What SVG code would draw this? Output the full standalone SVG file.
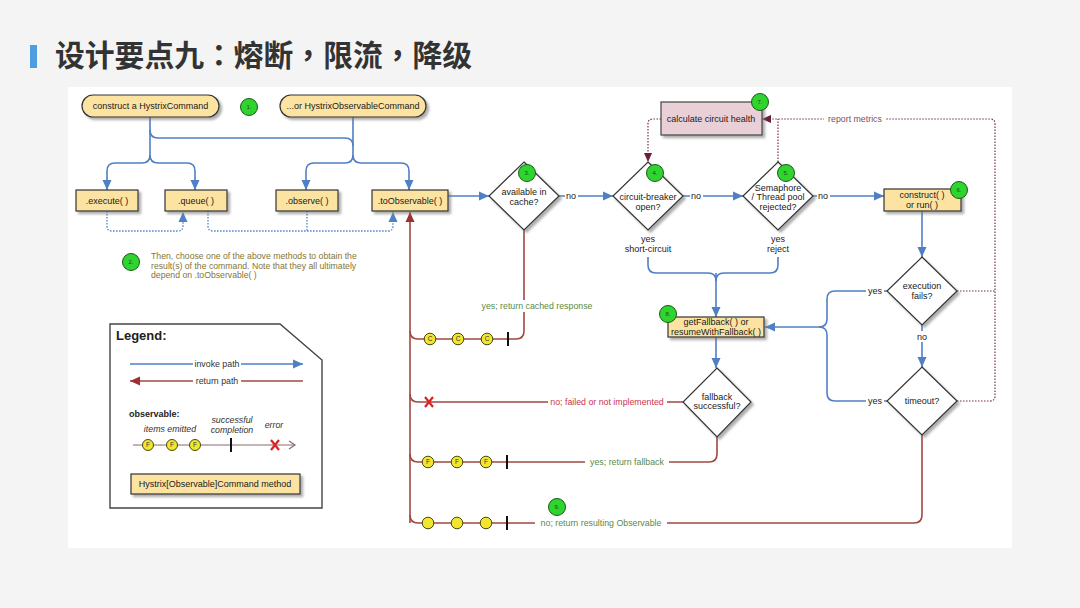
<svg xmlns="http://www.w3.org/2000/svg" width="1080" height="608" viewBox="0 0 1080 608">
<style>
.t{font-family:"Liberation Sans",Arial,sans-serif;font-size:9px;fill:#1a1a1a;text-anchor:middle}
.s{font-family:"Liberation Sans",Arial,sans-serif;font-size:8.8px;text-anchor:middle}
.g{fill:#5a8a46}
.r{fill:#cc3550}
.m{fill:#8a4a5a}
.o{fill:#857536;font-family:"Liberation Sans",Arial,sans-serif;font-size:8.7px}
.box{fill:#fce3a2;stroke:#333;stroke-width:1.2}
.dia{fill:#fff;stroke:#333;stroke-width:1.2}
.blue{fill:none;stroke:#4f7fc4;stroke-width:1.6}
.bdot{fill:none;stroke:#4f7fc4;stroke-width:1.3;stroke-dasharray:1.5 1.5}
.red{fill:none;stroke:#a04840;stroke-width:1.6}
.rdot{fill:none;stroke:#7a3040;stroke-width:1.2;stroke-dasharray:1.5 1.5}
.gc{fill:#2fd42f;stroke:#1a5a1a;stroke-width:1}
.gt{font-family:"Liberation Sans",Arial,sans-serif;font-size:6px;fill:#1a4a1a;text-anchor:middle}
.yc{fill:#f2e52e;stroke:#4a4a10;stroke-width:1}
.yt{font-family:"Liberation Sans",Arial,sans-serif;font-size:6.5px;fill:#333;text-anchor:middle}
.tick{stroke:#111;stroke-width:2}
.x{stroke:#dd2222;stroke-width:2.2;fill:none}
.wb{fill:#fff}
</style>
<defs>
<filter id="sh" x="-20%" y="-20%" width="150%" height="150%">
<feDropShadow dx="2.5" dy="2.5" stdDeviation="0.8" flood-color="#777" flood-opacity="0.6"/>
</filter>
<marker id="ab" markerUnits="userSpaceOnUse" markerWidth="10" markerHeight="10" viewBox="0 0 10 10" refX="10" refY="5" orient="auto"><path d="M0,0.5 L10,5 L0,9.5 Z" fill="#4f7fc4"/></marker>
<marker id="ar" markerUnits="userSpaceOnUse" markerWidth="10" markerHeight="10" viewBox="0 0 10 10" refX="10" refY="5" orient="auto"><path d="M0,0.5 L10,5 L0,9.5 Z" fill="#a03030"/></marker>
<marker id="am" markerUnits="userSpaceOnUse" markerWidth="9" markerHeight="9" viewBox="0 0 10 10" refX="10" refY="5" orient="auto"><path d="M0,0.5 L10,5 L0,9.5 Z" fill="#6a2035"/></marker>
</defs>
<rect x="0" y="0" width="1080" height="608" fill="#f4f4f4"/>
<rect x="68" y="87" width="944" height="461" fill="#fff"/>
<g id="title">
<rect x="30" y="45" width="7" height="23" fill="#4f9de0"/>
<text x="55" y="66" font-family="'Noto Sans CJK TC','Noto Sans CJK SC',sans-serif" font-size="29.8" font-weight="bold" fill="#333">设计要点九：熔断，限流，降级</text>
</g>
<g id="connectors">
<path class="blue" d="M150,117 V155 Q150,163 142,163 H115 Q107,163 107,171 V190" marker-end="url(#ab)"/>
<path class="blue" d="M150,155 Q150,163 158,163 H187 Q195,163 195,171 V190" marker-end="url(#ab)"/>
<path class="blue" d="M150,130 Q150,138 158,138 H345 Q353,138 353,146"/>
<path class="blue" d="M353,117 V155 Q353,163 345,163 H314 Q306,163 306,171 V190" marker-end="url(#ab)"/>
<path class="blue" d="M353,155 Q353,163 361,163 H401 Q409,163 409,171 V190" marker-end="url(#ab)"/>
<path class="bdot" d="M107,211 V226 Q107,231 112,231 H178 Q183,231 183,226 V212" marker-end="url(#ab)"/>
<path class="bdot" d="M208,211 V226 Q208,231 213,231 H388 Q393,231 393,226 V212" marker-end="url(#ab)"/>
<path class="bdot" d="M307,211 V231"/>
<path class="blue" d="M448,196 H489" marker-end="url(#ab)"/>
<path class="blue" d="M559,196 H613" marker-end="url(#ab)"/>
<path class="blue" d="M683,196 H743" marker-end="url(#ab)"/>
<path class="blue" d="M813,196 H884" marker-end="url(#ab)"/>
<path class="blue" d="M922,211 V257" marker-end="url(#ab)"/>
<path class="blue" d="M922,325 V367" marker-end="url(#ab)"/>
<path class="blue" d="M648,257 V265 Q648,273 656,273 H708 Q716,273 716,281"/>
<path class="blue" d="M778,257 V265 Q778,273 770,273 H724 Q716,273 716,281"/>
<path class="blue" d="M716,273 V317" marker-end="url(#ab)"/>
<path class="blue" d="M716,337 V368" marker-end="url(#ab)"/>
<path class="blue" d="M888,291 H835 Q827,291 827,299 V319 Q827,327 819,327"/>
<path class="blue" d="M888,401 H835 Q827,401 827,393 V335 Q827,327 819,327"/>
<path class="blue" d="M819,327 H765" marker-end="url(#ab)"/>
<path class="red" d="M410,523 V212" marker-end="url(#ar)"/>
<path class="red" d="M524,230 V331 Q524,339 516,339 H418 Q410,339 410,331"/>
<path class="red" d="M683,402 H418 Q410,402 410,394"/>
<path class="red" d="M717,437 V454 Q717,462 709,462 H418 Q410,462 410,454"/>
<path class="red" d="M922,435 V515 Q922,523 914,523 H418 Q410,523 410,515"/>
<path class="rdot" d="M661,119 H653 Q648,119 648,124 V162" marker-end="url(#am)"/>
<path class="rdot" d="M957,401 H990 Q995,401 995,396 V124 Q995,119 990,119 H762" marker-end="url(#am)"/>
<path class="rdot" d="M957,291 H995"/>
<path class="rdot" d="M778,162 V119"/>
</g>
<g id="labels">
<rect class="wb" x="478" y="300" width="118" height="12"/>
<text class="s g" x="537" y="309">yes; return cached response</text>
<rect class="wb" x="548" y="396" width="119" height="12"/>
<text class="s r" x="607" y="405">no; failed or not implemented</text>
<rect class="wb" x="585" y="456" width="84" height="12"/>
<text class="s g" x="627" y="465">yes; return fallback</text>
<rect class="wb" x="535" y="517" width="132" height="12"/>
<text class="s g" x="601" y="526">no; return resulting Observable</text>
<rect class="wb" x="824" y="113" width="62" height="12"/>
<text class="s m" x="855" y="122">report metrics</text>
<rect class="wb" x="565" y="191" width="13" height="10"/>
<text class="t" x="571" y="199">no</text>
<rect class="wb" x="690" y="191" width="13" height="10"/>
<text class="t" x="696" y="199">no</text>
<rect class="wb" x="817" y="191" width="13" height="10"/>
<text class="t" x="823" y="199">no</text>
<rect class="wb" x="866" y="286" width="18" height="10"/>
<text class="t" x="875" y="294">yes</text>
<rect class="wb" x="866" y="396" width="18" height="10"/>
<text class="t" x="875" y="404">yes</text>
<rect class="wb" x="915" y="331" width="14" height="11"/>
<text class="t" x="922" y="340">no</text>
<text class="t" x="648" y="242">yes</text>
<text class="t" x="648" y="252">short-circuit</text>
<text class="t" x="778" y="242">yes</text>
<text class="t" x="778" y="252">reject</text>
</g>
<g id="n-construct">
<rect class="box" x="82" y="95" width="137" height="22" rx="11" filter="url(#sh)"/>
<text class="t" x="150.5" y="109">construct a HystrixCommand</text>
</g>
<g id="n-observablecommand">
<rect class="box" x="280" y="95" width="146" height="22" rx="11" filter="url(#sh)"/>
<text class="t" x="353" y="109">...or HystrixObservableCommand</text>
</g>
<g id="n-execute">
<rect class="box" x="76" y="190" width="62" height="21" filter="url(#sh)"/>
<text class="t" x="107" y="203.5">.execute( )</text>
</g>
<g id="n-queue">
<rect class="box" x="165" y="190" width="62" height="21" filter="url(#sh)"/>
<text class="t" x="196" y="203.5">.queue( )</text>
</g>
<g id="n-observe">
<rect class="box" x="276" y="190" width="62" height="21" filter="url(#sh)"/>
<text class="t" x="307" y="203.5">.observe( )</text>
</g>
<g id="n-toobservable">
<rect class="box" x="372" y="190" width="76" height="21" filter="url(#sh)"/>
<text class="t" x="410" y="203.5">.toObservable( )</text>
</g>
<g id="n-cache">
<polygon class="dia" points="524,162 559,196 524,230 489,196" filter="url(#sh)"/>
<text class="t" x="524" y="195">available in</text>
<text class="t" x="524" y="205">cache?</text>
</g>
<g id="n-circuit">
<polygon class="dia" points="648,162 683,196 648,230 613,196" filter="url(#sh)"/>
<text class="t" x="648" y="200">circuit-breaker</text>
<text class="t" x="648" y="210">open?</text>
</g>
<g id="n-semaphore">
<polygon class="dia" points="778,162 813,196 778,230 743,196" filter="url(#sh)"/>
<text class="t" x="778" y="191">Semaphore</text>
<text class="t" x="778" y="200">/ Thread pool</text>
<text class="t" x="778" y="210">rejected?</text>
</g>
<g id="n-run">
<rect class="box" x="884" y="189" width="77" height="22" filter="url(#sh)"/>
<text class="t" x="922" y="198">construct( )</text>
<text class="t" x="922" y="208">or run( )</text>
</g>
<g id="n-health">
<rect x="661" y="102" width="101" height="33" fill="#e9cfd6" stroke="#444" stroke-width="1.2" filter="url(#sh)"/>
<text class="t" x="711" y="122">calculate circuit health</text>
</g>
<g id="n-execfails">
<polygon class="dia" points="922,257 957,291 922,325 887,291" filter="url(#sh)"/>
<text class="t" x="922" y="289">execution</text>
<text class="t" x="922" y="299">fails?</text>
</g>
<g id="n-timeout">
<polygon class="dia" points="922,367 957,401 922,435 887,401" filter="url(#sh)"/>
<text class="t" x="922" y="404">timeout?</text>
</g>
<g id="n-fallback">
<rect class="box" x="668" y="317" width="96" height="20" filter="url(#sh)"/>
<text class="t" x="716" y="325">getFallback( ) or</text>
<text class="t" x="716" y="335">resumeWithFallback( )</text>
</g>
<g id="n-fbsuccess">
<polygon class="dia" points="717,368 751,402 717,437 683,402" filter="url(#sh)"/>
<text class="t" x="717" y="400">fallback</text>
<text class="t" x="717" y="409">successful?</text>
</g>
<g id="n-note2">
<text class="o" x="151" y="259">Then, choose one of the above methods to obtain the</text>
<text class="o" x="151" y="268.5">result(s) of the command. Note that they all ultimately</text>
<text class="o" x="151" y="278">depend on .toObservable( )</text>
</g>
<g id="steps">
<circle class="gc" cx="249" cy="107" r="8.5"/><text class="gt" x="249" y="109">1.</text>
<circle class="gc" cx="131" cy="262" r="8.5"/><text class="gt" x="131" y="264">2.</text>
<circle class="gc" cx="527" cy="173" r="8.5"/><text class="gt" x="527" y="175">3.</text>
<circle class="gc" cx="655" cy="173" r="8.5"/><text class="gt" x="655" y="175">4.</text>
<circle class="gc" cx="786" cy="173" r="8.5"/><text class="gt" x="786" y="175">5.</text>
<circle class="gc" cx="959" cy="190" r="8.5"/><text class="gt" x="959" y="192">6.</text>
<circle class="gc" cx="760" cy="102" r="8.5"/><text class="gt" x="760" y="104">7.</text>
<circle class="gc" cx="668" cy="314" r="8.5"/><text class="gt" x="668" y="316">8.</text>
<circle class="gc" cx="557" cy="507" r="8.5"/><text class="gt" x="557" y="509">9.</text>
</g>
<g id="emissions">
<circle class="yc" cx="430" cy="339" r="5.8"/><text class="yt" x="430" y="341.3">C</text>
<circle class="yc" cx="458" cy="339" r="5.8"/><text class="yt" x="458" y="341.3">C</text>
<circle class="yc" cx="487" cy="339" r="5.8"/><text class="yt" x="487" y="341.3">C</text>
<line class="tick" x1="508" y1="332" x2="508" y2="346"/>
<path class="x" d="M425,397 L433,407 M433,397 L425,407"/>
<circle class="yc" cx="428" cy="462" r="5.8"/><text class="yt" x="428" y="464.3">F</text>
<circle class="yc" cx="457" cy="462" r="5.8"/><text class="yt" x="457" y="464.3">F</text>
<circle class="yc" cx="486" cy="462" r="5.8"/><text class="yt" x="486" y="464.3">F</text>
<line class="tick" x1="507" y1="455" x2="507" y2="469"/>
<circle class="yc" cx="428" cy="523" r="5.8"/>
<circle class="yc" cx="457" cy="523" r="5.8"/>
<circle class="yc" cx="486" cy="523" r="5.8"/>
<line class="tick" x1="507" y1="516" x2="507" y2="530"/>
</g>
<g id="legend">
<path d="M110,324 H280 L322,360 V508 H110 Z" fill="#fff" stroke="#444" stroke-width="1.4"/>
<text x="116" y="340" font-family="'Liberation Sans',Arial,sans-serif" font-size="13" font-weight="bold" fill="#222">Legend:</text>
<path class="blue" d="M130,364 H303" marker-end="url(#ab)"/>
<rect class="wb" x="193" y="358" width="48" height="11"/>
<text class="s" x="217" y="367" fill="#333">invoke path</text>
<path class="red" d="M303,381 H130" stroke="#9a2a2a" marker-end="url(#ar)"/>
<rect class="wb" x="193" y="375" width="48" height="11"/>
<text class="s" x="217" y="384" fill="#333">return path</text>
<text x="129" y="417" font-family="'Liberation Sans',Arial,sans-serif" font-size="9" font-weight="bold" fill="#222">observable:</text>
<text class="s" x="170" y="432" font-style="italic" fill="#333">items emitted</text>
<text class="s" x="232" y="423" font-style="italic" fill="#333">successful</text>
<text class="s" x="232" y="433" font-style="italic" fill="#333">completion</text>
<text class="s" x="274" y="428" font-style="italic" fill="#333">error</text>
<path d="M133,445 H294" stroke="#8a6a6a" stroke-width="1.2" fill="none"/>
<path d="M289,441 L295,445 L289,449" stroke="#8a6a6a" stroke-width="1.2" fill="none"/>
<circle class="yc" cx="148" cy="445" r="5.5"/><text class="yt" x="148" y="447.3">F</text>
<circle class="yc" cx="172" cy="445" r="5.5"/><text class="yt" x="172" y="447.3">F</text>
<circle class="yc" cx="195" cy="445" r="5.5"/><text class="yt" x="195" y="447.3">F</text>
<line class="tick" x1="231" y1="438" x2="231" y2="452"/>
<path class="x" d="M271,440 L279,450 M279,440 L271,450"/>
<rect class="box" x="131" y="474" width="169" height="20" filter="url(#sh)"/>
<text class="t" x="215" y="487">Hystrix[Observable]Command method</text>
</g>
</svg>
